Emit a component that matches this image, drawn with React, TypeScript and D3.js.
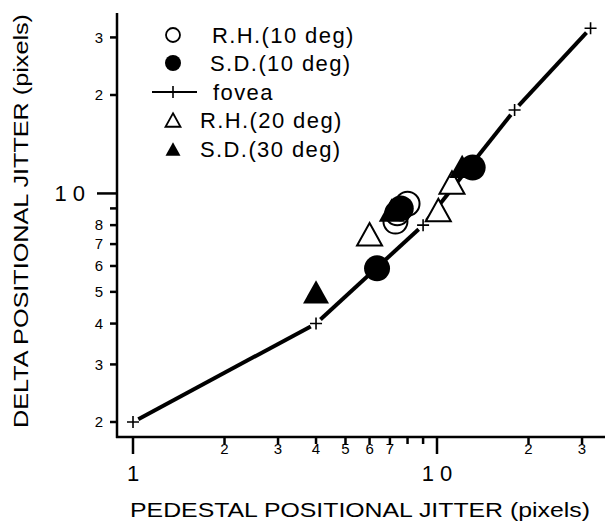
import React from 'react';
import * as d3 from 'd3';

// fovea curve (pedestal, delta)
const foveaX = [1, 4, 9, 18, 32];
const foveaY = [2, 4, 8, 18, 32];

// R.H.(10 deg) open circles
const rh10X = [8.0, 7.4, 7.3];
const rh10Y = [9.3, 8.7, 8.2];
// S.D.(10 deg) filled circles
const sd10X = [6.35, 7.6, 13.1];
const sd10Y = [5.9, 9.0, 12.0];
// R.H.(20 deg) open triangles
const rh20X = [6.0, 10.1, 11.2];
const rh20Y = [7.5, 8.9, 10.8];
// S.D.(30 deg) filled triangles
const sd30X = [4.0, 7.1, 12.1];
const sd30Y = [5.0, 8.9, 12.1];

const xTicks = [1, 2, 3, 4, 5, 6, 7, 8, 9, 10, 20, 30];
const xTickLabels = ['1', '2', '3', '4', '5', '6', '7', '', '', '1 0', '2', '3'];
const yTicks = [2, 3, 4, 5, 6, 7, 8, 9, 10, 20, 30];
const yTickLabels = ['2', '3', '4', '5', '6', '7', '8', '', '1 0', '2', '3'];

const legendLabels = ['R.H.(10 deg)', 'S.D.(10 deg)', 'fovea', 'R.H.(20 deg)', 'S.D.(30 deg)'];

const FONT = 'Liberation Sans, Arial, sans-serif';

function tri(cx: number, cy: number, s: number) {
  const h = s * 0.9;
  return `M${cx},${cy - h / 2}L${cx + s / 2},${cy + h / 2}L${cx - s / 2},${cy + h / 2}Z`;
}

function plus(cx: number, cy: number, s: number) {
  return `M${cx - s / 2},${cy}H${cx + s / 2}M${cx},${cy - s / 2}V${cy + s / 2}`;
}

export default function App() {
  const x = d3.scaleLog().domain([1, 10]).range([133, 437]);
  const y = d3.scaleLog().domain([2, 20]).range([422, 95]);

  const axisX = 117;
  const axisY = 437;

  // fovea segments, trimmed a bit at each end like the original
  const segs = [];
  for (let i = 0; i < foveaX.length - 1; i++) {
    const x1 = x(foveaX[i]), y1 = y(foveaY[i]);
    const x2 = x(foveaX[i + 1]), y2 = y(foveaY[i + 1]);
    const len = Math.hypot(x2 - x1, y2 - y1);
    const ux = (x2 - x1) / len, uy = (y2 - y1) / len;
    const g = 6;
    segs.push([x1 + ux * g, y1 + uy * g, x2 - ux * g, y2 - uy * g]);
  }

  const legendY = [35, 63, 92, 120, 149];
  const legendTextX = [212, 210, 213, 200, 200];

  return (
    <svg width={607} height={525} style={{ position: 'absolute', left: 0, top: 0 }} fontFamily={FONT}>
      <rect width={607} height={525} fill="#fff" />

      {/* axes */}
      <line x1={axisX} y1={13} x2={axisX} y2={axisY + 1} stroke="#000" strokeWidth={2.5} />
      <line x1={axisX - 1} y1={axisY} x2={605} y2={axisY} stroke="#000" strokeWidth={2.5} />

      {xTicks.map((t, i) => {
        const major = t === 1 || t === 10;
        return (
          <g key={'xt' + t}>
            <line x1={x(t)} x2={x(t)} y1={axisY} y2={axisY + (major ? 17 : 7)} stroke="#000" strokeWidth={2.5} />
            {xTickLabels[i] && (
              <text x={x(t)} y={major ? 481 : 454} textAnchor="middle" fontSize={major ? 22 : 15}>
                {xTickLabels[i]}
              </text>
            )}
          </g>
        );
      })}

      {yTicks.map((t, i) => {
        const major = t === 10;
        return (
          <g key={'yt' + t}>
            <line x1={axisX - (major ? 20 : 7)} x2={axisX} y1={y(t)} y2={y(t)} stroke="#000" strokeWidth={2.5} />
            {yTickLabels[i] && (
              <text x={major ? 85 : 103} y={y(t)} dy="0.35em" textAnchor="end" fontSize={major ? 22 : 15}>
                {yTickLabels[i]}
              </text>
            )}
          </g>
        );
      })}

      {/* axis titles */}
      <text x={360} y={517} textAnchor="middle" fontSize={21} textLength={460} lengthAdjust="spacingAndGlyphs">
        PEDESTAL POSITIONAL JITTER (pixels)
      </text>
      <text transform="translate(28,221) rotate(-90)" textAnchor="middle" fontSize={21} textLength={414} lengthAdjust="spacingAndGlyphs">
        DELTA POSITIONAL JITTER (pixels)
      </text>

      {/* fovea */}
      {segs.map((s, i) => (
        <line key={'fs' + i} x1={s[0]} y1={s[1]} x2={s[2]} y2={s[3]} stroke="#000" strokeWidth={4} />
      ))}
      {foveaX.map((v, i) => (
        <path key={'fp' + i} d={plus(x(v), y(foveaY[i]), 12)} stroke="#000" strokeWidth={1.6} fill="none" />
      ))}

      {/* data */}
      {rh10X.map((v, i) => (
        <circle key={'rh10' + i} cx={x(v)} cy={y(rh10Y[i])} r={12} fill="none" stroke="#000" strokeWidth={2} />
      ))}
      {rh20X.map((v, i) => (
        <path key={'rh20' + i} d={tri(x(v), y(rh20Y[i]), 25)} fill="#fff" stroke="#000" strokeWidth={2} />
      ))}
      {sd10X.map((v, i) => (
        <circle key={'sd10' + i} cx={x(v)} cy={y(sd10Y[i])} r={13} fill="#000" />
      ))}
      {sd30X.map((v, i) => (
        <path key={'sd30' + i} d={tri(x(v), y(sd30Y[i]), 26)} fill="#000" />
      ))}

      {/* legend */}
      <circle cx={173} cy={legendY[0]} r={7} fill="none" stroke="#000" strokeWidth={1.8} />
      <circle cx={173} cy={legendY[1]} r={8} fill="#000" />
      <line x1={152} x2={197} y1={legendY[2]} y2={legendY[2]} stroke="#000" strokeWidth={1.8} />
      <path d={plus(173, legendY[2], 12)} stroke="#000" strokeWidth={1.6} />
      <path d={tri(173, legendY[3], 15)} fill="#fff" stroke="#000" strokeWidth={1.8} />
      <path d={tri(173, legendY[4], 15)} fill="#000" />
      {legendLabels.map((l, i) => (
        <text key={l} x={legendTextX[i]} y={legendY[i]} dy="0.35em" fontSize={22} letterSpacing={1.4}>
          {l}
        </text>
      ))}
    </svg>
  );
}
